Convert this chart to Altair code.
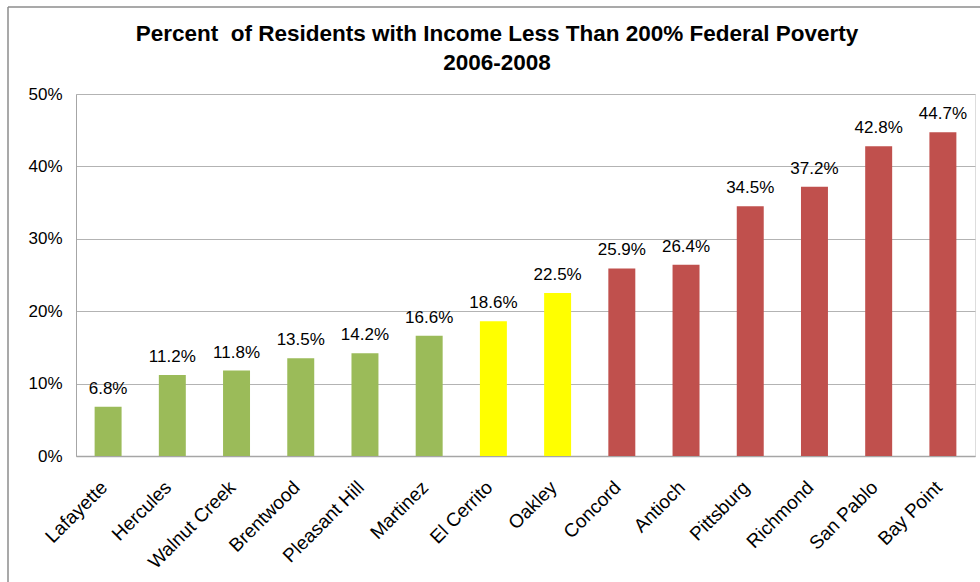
import altair as alt
import pandas as pd

cities = ["Lafayette", "Hercules", "Walnut Creek", "Brentwood", "Pleasant Hill",
          "Martinez", "El Cerrito", "Oakley", "Concord", "Antioch", "Pittsburg",
          "Richmond", "San Pablo", "Bay Point"]
values = [6.8, 11.2, 11.8, 13.5, 14.2, 16.6, 18.6, 22.5, 25.9, 26.4, 34.5, 37.2, 42.8, 44.7]
groups = ["low"] * 6 + ["mid"] * 2 + ["high"] * 6
group_names = ["low", "mid", "high"]
group_colors = ["#9BBB59", "#FFFF00", "#C0504D"]
y_ticks = [0, 0.1, 0.2, 0.3, 0.4, 0.5]
title_lines = ["Percent\u00a0 of Residents with Income Less Than 200% Federal Poverty", "2006-2008"]

df = pd.DataFrame({
    "city": cities,
    "pct": [v / 100 for v in values],
    "group": groups,
    "label": [f"{v:.1f}%" for v in values],
})
one = pd.DataFrame({"k": [0]})

FONT = "Liberation Sans"
W, H = 899, 362
LEFT, TOP = 76, 94

xenc = alt.X("city:N", sort=cities,
             scale=alt.Scale(paddingInner=0.58, paddingOuter=0.29),
             axis=alt.Axis(title=None, labelAngle=-45, labelAlign="right",
                           labelBaseline="middle", labelFontSize=19, labelFont=FONT,
                           labelColor="black", labelPadding=28, labelOffset=-4, ticks=False,
                           domainColor="#A6A6A6", domainWidth=1.5))
yenc = alt.Y("pct:Q", scale=alt.Scale(domain=[0, 0.5]),
             axis=alt.Axis(title=None, format=".0%", values=y_ticks, grid=True,
                           gridColor="#B3B3B3", domainColor="#A6A6A6", ticks=False,
                           labelPadding=14, labelFontSize=17, labelFont=FONT,
                           labelColor="black"))

base = alt.Chart(df)
bars = base.mark_bar().encode(
    x=xenc, y=yenc,
    color=alt.Color("group:N", scale=alt.Scale(domain=group_names, range=group_colors), legend=None),
)
labels = base.mark_text(dy=-13, baseline="alphabetic", fontSize=17, font=FONT, color="black").encode(
    x=alt.X("city:N", sort=cities), y="pct:Q", text="label:N")

deco = alt.Chart(one)
title1 = deco.mark_text(fontSize=22.5, fontWeight="bold", font=FONT, color="black",
                        baseline="alphabetic", align="center").encode(
    x=alt.value(497 - LEFT), y=alt.value(41 - TOP), text=alt.value(title_lines[0]))
title2 = deco.mark_text(fontSize=22.5, fontWeight="bold", font=FONT, color="black",
                        baseline="alphabetic", align="center").encode(
    x=alt.value(497 - LEFT), y=alt.value(70 - TOP), text=alt.value(title_lines[1]))

border_left = deco.mark_rule(color="#8C8C8C", strokeWidth=1.5).encode(
    x=alt.value(8 - LEFT), y=alt.value(7 - TOP), y2=alt.value(600 - TOP))
border_top = deco.mark_rule(color="#8C8C8C", strokeWidth=1.5).encode(
    x=alt.value(8 - LEFT), x2=alt.value(990 - LEFT), y=alt.value(7 - TOP))

chart = alt.layer(bars, labels, title1, title2, border_left, border_top).properties(
    width=W, height=H,
    autosize=alt.AutoSizeParams(type="none"),
    padding={"left": LEFT, "top": TOP, "right": 980 - LEFT - W, "bottom": 582 - TOP - H},
).configure_view(stroke=None).configure(background="white")

chart.save("out.html", embed_options={"renderer": "svg", "actions": False})
